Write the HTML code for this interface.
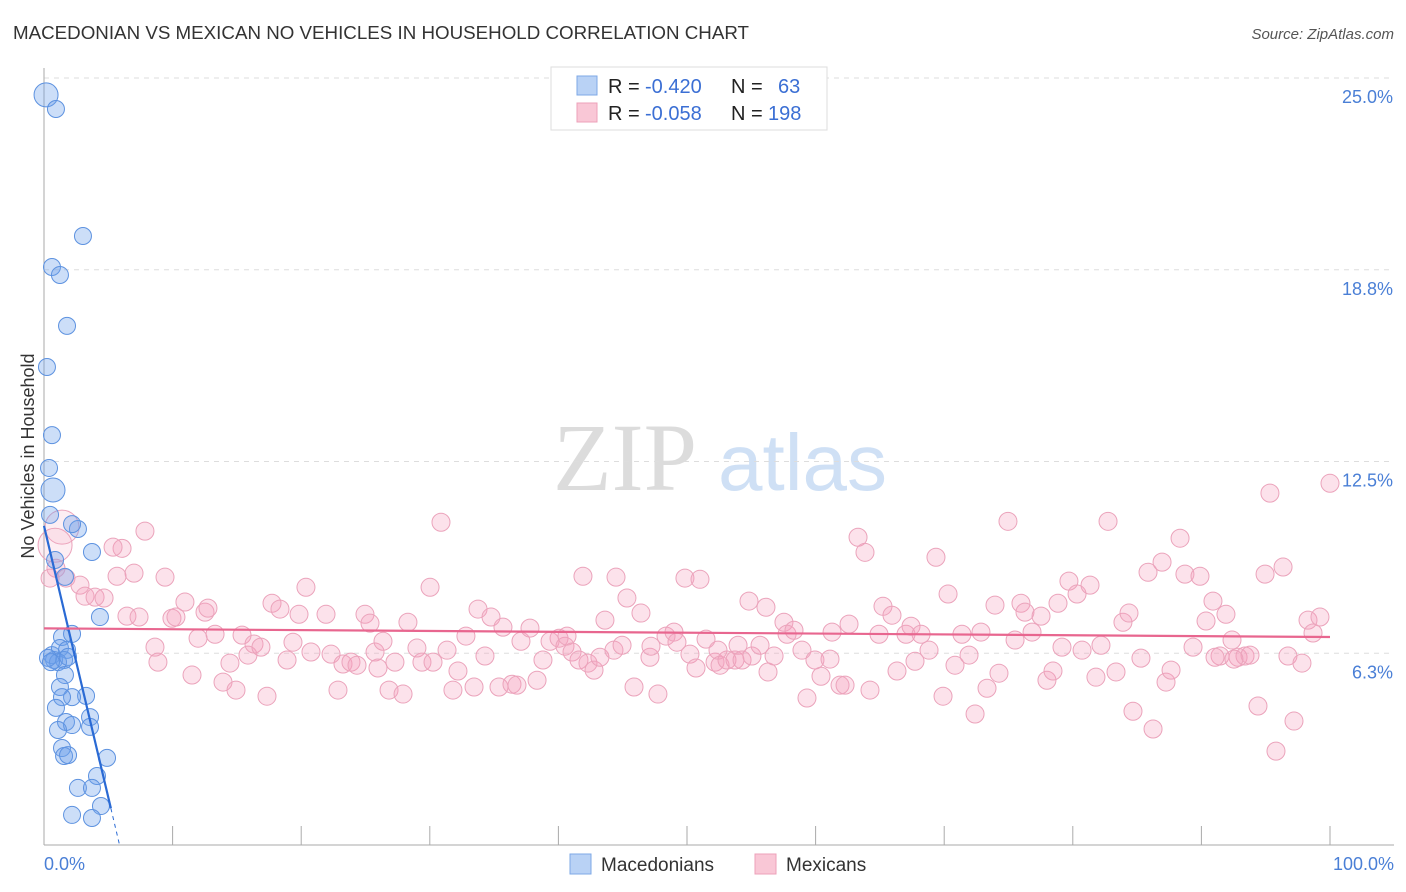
<!DOCTYPE html>
<html><head><meta charset="utf-8"><style>
body{margin:0;background:#fff;font-family:"Liberation Sans",sans-serif}
svg{display:block}
</style></head><body>
<svg id="chart" width="1406" height="892" xmlns="http://www.w3.org/2000/svg">
<text x="13" y="39" font-size="18.5" fill="#333" textLength="736" lengthAdjust="spacingAndGlyphs">MACEDONIAN VS MEXICAN NO VEHICLES IN HOUSEHOLD CORRELATION CHART</text>
<text x="1394" y="39" font-size="15" fill="#555" font-style="italic" text-anchor="end">Source: ZipAtlas.com</text>
<g>
<text x="553" y="490" font-family="Liberation Serif,serif" font-size="96" fill="#dcdcdc">ZIP</text>
<text x="718" y="490" font-size="80" fill="#cfe0f5">atlas</text>
</g>
<g id="grid"></g>
<g id="axes"></g>
<g id="pts"></g>
<g id="trend"></g>
<text transform="translate(34,456) rotate(-90)" font-size="18" fill="#333" text-anchor="middle">No Vehicles in Household</text>
<g>
<rect x="551" y="67" width="276" height="63" fill="#fff" stroke="#ddd"/>
<rect x="577" y="76" width="20" height="19" fill="#b9d2f5" stroke="#7ea8e6"/>
<rect x="577" y="103" width="20" height="19" fill="#f9c7d6" stroke="#eda0b9"/>
<text x="608" y="93" font-size="20" fill="#222">R = <tspan x="645" fill="#3b6fd4">-0.420</tspan><tspan x="731">N =</tspan><tspan x="778" fill="#3b6fd4">63</tspan></text>
<text x="608" y="120" font-size="20" fill="#222">R = <tspan x="645" fill="#3b6fd4">-0.058</tspan><tspan x="731">N =</tspan><tspan x="768" fill="#3b6fd4">198</tspan></text>
</g>
<g>
<rect x="570" y="854" width="21" height="20" fill="#b9d2f5" stroke="#7ea8e6"/>
<text x="601" y="871" font-size="19" fill="#333">Macedonians</text>
<rect x="755" y="854" width="21" height="20" fill="#f9c7d6" stroke="#eda0b9"/>
<text x="786" y="871" font-size="19" fill="#333">Mexicans</text>
</g>
</svg>
<script>
const yTicks=[6.25,12.5,18.75,25];
const yTickLabels=["6.3%","12.5%","18.8%","25.0%"];
const xTickVals=[0,10,20,30,40,50,60,70,80,90,100];
const macX=[0.16,0.93,3.03,0.62,1.24,1.79,0.23,0.62,0.39,0.70,0.47,2.64,2.18,0.86,3.73,1.63,4.35,1.40,2.18,0.62,0.78,1.24,1.79,1.56,1.09,1.87,1.63,1.24,3.27,2.18,1.40,0.93,1.71,2.18,3.58,3.58,1.09,1.40,1.56,1.87,4.90,4.12,2.64,3.73,4.43,2.18,3.73,0.31,0.54];
const macY=[24.45,23.99,19.85,18.84,18.58,16.92,15.58,13.36,12.29,11.57,10.76,10.30,10.46,9.29,9.55,8.74,7.43,6.78,6.88,6.19,6.03,6.42,6.36,6.03,5.96,6.13,5.54,5.15,4.86,4.82,4.82,4.47,4.01,3.91,4.17,3.85,3.75,3.16,2.90,2.93,2.84,2.25,1.86,1.86,1.27,0.98,0.88,6.10,5.96];
const mexX=[1.4,0.86,0.47,0.93,1.71,2.80,3.19,3.97,4.67,5.68,6.07,5.37,6.45,7.39,7.00,7.85,8.63,8.86,9.41,9.95,10.26,10.96,11.51,11.98,12.52,12.75,13.30,13.92,14.46,14.93,15.40,15.86,16.33,16.87,17.34,17.73,18.35,18.90,19.36,19.83,20.37,20.76,21.93,22.32,22.86,23.25,23.87,24.34,24.96,25.35,25.74,25.97,26.36,26.83,27.29,27.92,28.30,29.00,29.39,30.02,30.25,30.87,31.34,31.80,32.19,32.81,33.44,33.75,34.29,34.76,35.38,35.69,36.39,36.78,37.09,37.79,38.34,38.80,39.35,40.05,40.51,40.67,41.06,41.60,41.91,42.30,42.77,43.23,43.62,44.32,44.48,44.95,45.33,45.88,46.42,47.12,47.20,47.74,48.37,48.99,49.22,49.84,50.23,50.70,51.01,51.48,52.18,52.41,52.57,53.11,53.73,53.97,54.28,54.82,55.05,55.68,56.30,56.14,56.77,57.54,57.78,58.32,58.94,59.33,59.95,60.42,61.12,61.28,61.90,62.29,62.60,63.30,63.84,64.23,64.93,65.24,65.94,66.33,67.03,67.42,67.73,68.20,68.82,69.36,69.91,70.30,70.84,71.38,71.93,72.40,72.86,73.33,73.95,74.26,74.96,75.51,75.97,76.28,76.83,77.53,77.99,78.46,78.85,79.16,79.70,80.33,80.72,81.34,81.80,82.19,82.74,83.36,83.90,84.37,84.68,85.30,85.85,86.24,86.94,87.25,87.64,88.34,88.72,89.35,89.89,90.36,90.90,91.45,91.91,92.38,92.85,93.39,93.78,94.40,94.95,95.33,95.80,96.35,96.73,97.20,97.82,98.29,98.68,99.22,100.0,92.53,91.06];
const mexY=[10.36,9.77,8.70,9.02,8.70,8.47,8.11,8.08,8.05,8.76,9.67,9.71,7.46,7.43,8.86,10.23,6.45,5.96,8.73,7.39,7.43,7.92,5.54,6.74,7.59,7.72,6.87,5.31,5.93,5.05,6.84,6.19,6.55,6.45,4.85,7.88,7.69,6.03,6.61,7.52,8.40,6.29,7.52,6.22,5.05,5.90,5.96,5.86,7.52,7.23,6.29,5.77,6.64,5.05,5.96,4.92,7.26,6.42,5.96,8.40,5.96,10.52,6.35,5.05,5.67,6.81,5.15,7.69,6.16,7.43,5.15,7.10,5.24,5.21,6.64,7.07,5.37,6.03,6.64,6.74,6.48,6.81,6.29,6.03,8.76,5.93,5.70,6.12,7.33,6.35,8.73,6.51,8.05,5.15,7.56,6.12,6.48,4.92,6.81,6.94,6.61,8.70,6.22,5.77,8.66,6.71,5.96,6.35,5.86,6.03,6.03,6.51,6.03,7.95,6.16,6.51,5.64,7.75,6.16,7.26,6.87,7.00,6.35,4.79,6.03,5.50,6.06,6.94,5.21,5.21,7.20,10.03,9.54,5.05,6.87,7.78,7.49,5.67,6.87,7.13,5.99,6.87,6.35,9.38,4.85,8.18,5.86,6.87,6.19,4.27,6.94,5.11,7.82,5.60,10.55,6.68,7.88,7.59,6.94,7.46,5.37,5.67,7.88,6.45,8.60,8.18,6.35,8.47,5.47,6.51,10.55,5.64,7.26,7.56,4.36,6.09,8.89,3.78,9.22,5.31,5.70,10.00,8.83,6.45,8.76,7.30,7.95,6.16,7.52,6.68,6.12,6.16,6.19,4.53,8.83,11.47,3.06,9.06,6.16,4.04,5.93,7.33,6.91,7.43,11.79,6.06,6.12];
const macTrend=[10.4,-1.77];
const mexTrend=[7.06,-0.0028];

const X=v=>44+v*12.86, Y=v=>845-v*30.68;
const NS="http://www.w3.org/2000/svg";
function mk(tag,attrs,parent){const e=document.createElementNS(NS,tag);for(const k in attrs)e.setAttribute(k,attrs[k]);document.getElementById(parent).appendChild(e);return e;}
yTicks.forEach((t,i)=>{
  const l=mk('line',{x1:44,x2:1394,y1:Y(t),y2:Y(t),stroke:'#ddd','stroke-dasharray':'5,5'},'grid');
  
  
  const tx=mk('text',{x:1393,y:Y(t)+25,'font-size':18,fill:'#4a7fd6','text-anchor':'end'},'grid');
  tx.textContent=yTickLabels[i];
  
  
});
const ax=mk('line',{x1:44,x2:44,y1:68,y2:845,stroke:'#aaa'},'axes');


const bx=mk('line',{x1:44,x2:1394,y1:845,y2:845,stroke:'#aaa'},'axes');


xTickVals.forEach(v=>{
  const t=mk('line',{x1:X(v),x2:X(v),y1:826,y2:845,stroke:'#aaa'},'axes');
  
  
});
const xl0=mk('text',{x:44,y:870,'font-size':18,fill:'#4a7fd6'},'axes');xl0.textContent='0.0%';


const xl1=mk('text',{x:1394,y:870,'font-size':18,fill:'#4a7fd6','text-anchor':'end'},'axes');xl1.textContent='100.0%';


mexX.forEach((v,i)=>{
  const c=mk('circle',{cx:X(v),cy:Y(mexY[i]),r:i<2?17:9,fill:i<2?'rgba(244,160,188,0.18)':'rgba(244,160,188,0.3)',stroke:'#eba3bb','stroke-width':1},'pts');
  
  
});
macX.forEach((v,i)=>{
  const c=mk('circle',{cx:X(v),cy:Y(macY[i]),r:(i==0||i==9)?12:8.5,fill:'rgba(110,160,235,0.35)',stroke:'#5d92e0','stroke-width':1},'pts');
  
  
});
const f=(t,x)=>t[0]+t[1]*x;
const b1=mk('line',{x1:X(0),y1:Y(f(macTrend,0)),x2:X(5.2),y2:Y(f(macTrend,5.2)),stroke:'#2a6ad4','stroke-width':2.2},'trend');


const b2=mk('line',{x1:X(5.2),y1:Y(f(macTrend,5.2)),x2:X(5.85),y2:Y(f(macTrend,5.85)),stroke:'#2a6ad4','stroke-width':1,'stroke-dasharray':'4,4'},'trend');


const p1=mk('line',{x1:X(0),y1:Y(f(mexTrend,0)),x2:X(100),y2:Y(f(mexTrend,100)),stroke:'#e8668f','stroke-width':2.2},'trend');


</script>
</body></html>
